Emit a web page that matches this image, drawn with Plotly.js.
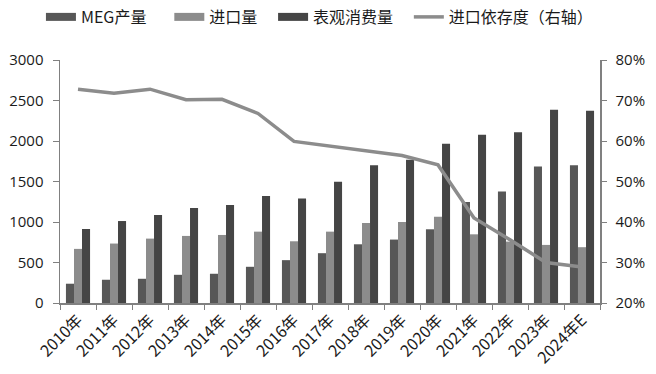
<!DOCTYPE html>
<html>
<head>
<meta charset="utf-8">
<script src="https://cdn.plot.ly/plotly-3.0.1.min.js"></script>
<style>html,body{margin:0;padding:0;background:#fff;}#chart{width:656px;height:374px;}</style>
</head>
<body>
<div id="chart"></div>
<script>
var years = ["2010年","2011年","2012年","2013年","2014年","2015年","2016年","2017年","2018年","2019年","2020年","2021年","2022年","2023年","2024年E"];
var megProduction = [238, 287, 299, 348, 361, 447, 529, 615, 725, 783, 910, 1246, 1377, 1684, 1701];
var imports = [668, 734, 795, 828, 840, 881, 762, 881, 988, 1000, 1066, 848, 758, 717, 689];
var consumption = [914, 1012, 1086, 1172, 1209, 1320, 1291, 1496, 1701, 1770, 1967, 2078, 2107, 2385, 2373];
var importDependence = [72.8, 71.8, 72.8, 70.2, 70.3, 66.8, 59.9, 58.7, 57.7, 56.4, 54.1, 41.0, 35.6, 30.0, 28.9];
var seriesNames = ['MEG产量', '进口量', '表观消费量', '进口依存度（右轴）'];
var seriesColors = ['#575757', '#8c8c8c', '#454545', '#8c8c8c'];
var legendPads = ['\u00a0\u00a0\u00a0\u00a0\u00a0', '\u00a0\u00a0\u00a0', '\u00a0\u00a0\u00a0', ''];

var fontFam = '"Open Sans", "Noto Sans CJK SC", sans-serif';
var axisCol = '#808080';

var barData = [megProduction, imports, consumption];
var traces = [];
barData.forEach(function(vals, i){
  traces.push({type:'bar', name:seriesNames[i], x:years, y:vals, showlegend:false, legendgroup:'g'+i,
               marker:{color:seriesColors[i], line:{width:0}}});
});
traces.push({type:'scatter', mode:'lines', name:seriesNames[3], x:years, y:importDependence, yaxis:'y2',
             line:{color:seriesColors[3], width:3.5}, showlegend:false, legendgroup:'g3'});
// legend-only entries (rectangular swatches like the reference)
seriesNames.forEach(function(n, i){
  traces.push({type:'scatter', mode:'lines', name:n + legendPads[i], x:[years[0]], y:[null],
               legendgroup:'g'+i, line:{color:seriesColors[i], width:(i < 3 ? 8 : 3.5)}, hoverinfo:'skip'});
});

var layout = {
  width:656, height:374,
  margin:{l:60, r:56, t:60, b:71, autoexpand:false},
  paper_bgcolor:'#fff', plot_bgcolor:'#fff',
  font:{family:fontFam, color:'#1a1a1a', size:14},
  barmode:'group', bargap:0.33, bargroupgap:0,
  showlegend:true,
  legend:{orientation:'h', x:-0.0353, xanchor:'left', y:1.177, yanchor:'middle',
          font:{family:'"Noto Sans CJK SC", sans-serif', size:16, color:'#1a1a1a'},
          itemwidth:30, tracegroupgap:0, bgcolor:'rgba(0,0,0,0)', borderwidth:0},
  xaxis:{type:'category', showline:true, linecolor:axisCol, linewidth:1.5,
         ticks:'outside', tickson:'boundaries', ticklen:5, tickcolor:axisCol,
         tickangle:-45, tickfont:{family:'"Noto Sans CJK SC", sans-serif', size:16, color:'#1a1a1a'},
         showgrid:false, zeroline:false, automargin:false},
  yaxis:{range:[0,3000], dtick:500, showline:true, linecolor:axisCol, linewidth:1.5,
         ticks:'outside', ticklen:6, tickcolor:axisCol, showgrid:false, zeroline:false,
         ticklabelstandoff:6, tickfont:{size:15, color:'#1a1a1a'}, automargin:false},
  yaxis2:{overlaying:'y', side:'right', range:[20,80], dtick:10, ticksuffix:'%',
          showline:true, linecolor:axisCol, linewidth:1.5, ticks:'outside', ticklen:5, tickcolor:axisCol,
          ticklabelstandoff:6, showgrid:false, zeroline:false, tickfont:{size:15, color:'#1a1a1a'}, automargin:false}
};

Plotly.newPlot('chart', traces, layout, {displayModeBar:false, staticPlot:true});
</script>
</body>
</html>
